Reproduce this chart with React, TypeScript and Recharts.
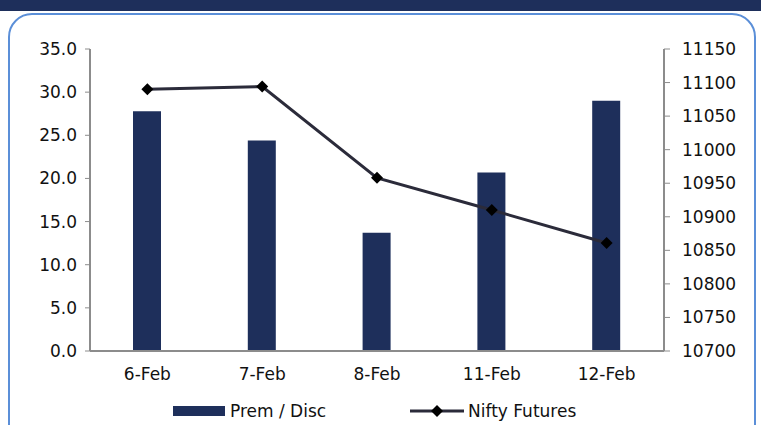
import React from 'react';
import { ComposedChart, Bar, Line, XAxis, YAxis, Legend } from 'recharts';

const dates = ['6-Feb', '7-Feb', '8-Feb', '11-Feb', '12-Feb'];
const premDisc = [27.8, 24.4, 13.7, 20.7, 29.0];
const niftyFutures = [11090, 11094, 10958, 10910, 10861];
const leftTicks = [0, 5, 10, 15, 20, 25, 30, 35];
const rightTicks = [10700, 10750, 10800, 10850, 10900, 10950, 11000, 11050, 11100, 11150];

const NAVY = '#1e2f5b';
const LINE = '#2b2b3a';
const AXIS = '#8c8c8c';
const FONT = '"DejaVu Sans", sans-serif';
const FS = 17;

const chartData = dates.map((d, i) => ({
  date: d,
  'Prem / Disc': premDisc[i],
  'Nifty Futures': niftyFutures[i],
}));

const Diamond = (props: any) => {
  const { cx, cy } = props;
  if (cx == null || cy == null) return null;
  const r = 6;
  return (
    <polygon
      points={`${cx},${cy - r} ${cx + r},${cy} ${cx},${cy + r} ${cx - r},${cy}`}
      fill="#000"
    />
  );
};

const LegendContent = () => (
  <div style={{ position: 'relative', width: 761, height: 24, fontFamily: FONT, fontSize: FS, color: '#111' }}>
    <div style={{ position: 'absolute', left: 173, top: 7, width: 52, height: 10, background: NAVY }} />
    <div style={{ position: 'absolute', left: 230, top: 0, lineHeight: '24px' }}>Prem / Disc</div>
    <svg style={{ position: 'absolute', left: 410, top: 0 }} width={54} height={24}>
      <line x1={0} y1={12} x2={54} y2={12} stroke={LINE} strokeWidth={3} />
      <polygon points="27,6 33,12 27,18 21,12" fill="#000" />
    </svg>
    <div style={{ position: 'absolute', left: 468, top: 0, lineHeight: '24px' }}>Nifty Futures</div>
  </div>
);

export default function App() {
  return (
    <div style={{ position: 'fixed', left: 0, top: 0, width: 761, height: 425, background: '#fff', overflow: 'hidden' }}>
      <div style={{ position: 'absolute', left: 0, top: 0, width: 761, height: 11, background: NAVY }} />
      <div
        style={{
          position: 'absolute',
          left: 8,
          top: 13,
          width: 748,
          height: 440,
          border: '2px solid #5b8fd8',
          borderRadius: 24,
          boxSizing: 'border-box',
        }}
      />
      <div style={{ position: 'absolute', left: 0, top: 0 }}>
        <ComposedChart
          width={761}
          height={425}
          data={chartData}
          margin={{ top: 49, right: 0, bottom: 44, left: 0 }}
          style={{ fontFamily: FONT }}
        >
          <XAxis
            dataKey="date"
            height={30}
            tickLine={false}
            axisLine={{ stroke: AXIS, strokeWidth: 2 }}
            tick={{ fill: '#111', fontSize: FS }}
            tickMargin={11}
          />
          <YAxis
            yAxisId="left"
            width={90}
            domain={[0, 35]}
            ticks={leftTicks}
            tickFormatter={(v) => v.toFixed(1)}
            axisLine={{ stroke: AXIS, strokeWidth: 2 }}
            tickLine={{ stroke: AXIS }}
            tickSize={5}
            tickMargin={8}
            tick={{ fill: '#111', fontSize: FS }}
          />
          <YAxis
            yAxisId="right"
            orientation="right"
            width={97}
            domain={[10700, 11150]}
            ticks={rightTicks}
            axisLine={{ stroke: AXIS, strokeWidth: 2 }}
            tickLine={{ stroke: AXIS }}
            tickSize={6}
            tickMargin={12}
            tick={{ fill: '#111', fontSize: FS, textAnchor: 'start' }}
          />
          <Bar yAxisId="left" dataKey="Prem / Disc" fill={NAVY} barSize={28} isAnimationActive={false} />
          <Line
            yAxisId="right"
            dataKey="Nifty Futures"
            stroke={LINE}
            strokeWidth={3}
            dot={<Diamond />}
            activeDot={false}
            isAnimationActive={false}
          />
          <Legend
            verticalAlign="middle"
            layout="horizontal"
            content={<LegendContent />}
            wrapperStyle={{ top: 399, left: 0, width: 761 }}
          />
        </ComposedChart>
      </div>
    </div>
  );
}
